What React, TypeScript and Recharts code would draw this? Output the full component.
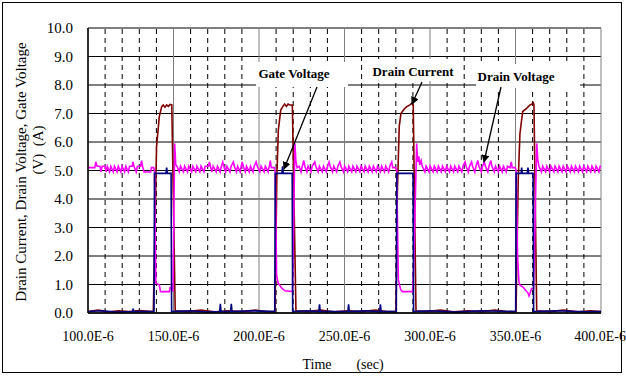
import React from 'react';
import { LineChart, Line, XAxis, YAxis, CartesianGrid, ReferenceLine } from 'recharts';

// time in microseconds, values in V / A
const timeTicks = [100, 150, 200, 250, 300, 350, 400];
const minorTimes = [110, 120, 130, 140, 160, 170, 180, 190, 210, 220, 230, 240, 260, 270, 280, 290, 310, 320, 330, 340, 360, 370, 380, 390];
const valueTicks = [0, 1, 2, 3, 4, 5, 6, 7, 8, 9, 10];

const gateVoltage: [number, number][] = [
  [100, 0.05], [108, 0.08], [116, 0.03], [126, 0.05], [126.4, 0.15], [126.8, 0.05], [138.6, 0.05],
  [138.9, 4.9], [145.6, 4.9], [146, 5.1], [146.4, 4.9], [148.6, 4.9], [148.9, 0.05],
  [160, 0.08], [170, 0.03], [177, 0.05], [177.4, 0.32], [177.8, 0.05], [183.4, 0.05], [183.8, 0.32], [184.2, 0.05],
  [195, 0.08], [209.2, 0.05],
  [209.5, 4.9], [213.4, 4.9], [213.8, 5.15], [214.2, 4.9], [219.4, 4.9], [219.7, 0.05],
  [228, 0.08], [235, 0.05], [235.4, 0.3], [235.8, 0.05], [252, 0.05], [252.4, 0.3], [252.8, 0.05],
  [262, 0.08], [270.6, 0.05], [271, 0.3], [271.4, 0.05], [280.3, 0.05],
  [280.6, 4.9], [290.1, 4.9], [290.4, 0.05],
  [300, 0.08], [315, 0.03], [330, 0.08], [350.1, 0.05],
  [350.4, 4.9], [353.3, 4.9], [353.6, 5.1], [354, 4.9], [356.9, 4.9], [357.3, 5.1], [357.7, 4.9], [360.3, 4.9], [360.6, 0.05],
  [375, 0.08], [390, 0.04], [400, 0.05],
];

const drainCurrent: [number, number][] = [
  [100, 0.05], [106, 0.1], [112, 0.04], [118, 0.08], [124, 0.05], [130, 0.09], [138.2, 0.05],
  [140.1, 5.84], [141.7, 6.9], [143.1, 7.24], [144, 7.3], [145, 7.22], [146, 7.3], [147, 7.25], [148, 7.32], [149, 7.3], [151, 0.08],
  [158, 0.05], [166, 0.1], [174, 0.04], [182, 0.08], [190, 0.05], [198, 0.1], [204, 0.05], [209.4, 0.05],
  [210.4, 4.67], [211.3, 6.42], [212.7, 7.12], [214, 7.25], [215, 7.33], [216, 7.25], [217, 7.33], [218, 7.3], [219.5, 7.3], [221.6, 0.08],
  [228, 0.05], [236, 0.1], [244, 0.04], [252, 0.08], [260, 0.05], [268, 0.1], [275, 0.05], [280.1, 0.05],
  [280.9, 4.2], [282, 6.54], [283, 7.0], [284.8, 7.15], [286.4, 7.24], [288.3, 7.3], [289.7, 7.38], [290.2, 7.3], [291.8, 0.08],
  [298, 0.05], [306, 0.1], [314, 0.04], [322, 0.08], [330, 0.05], [338, 0.1], [345, 0.05], [350.3, 0.05],
  [351.6, 4.67], [352.6, 6.3], [354.2, 7.07], [356.5, 7.18], [358.5, 7.3], [359.5, 7.33], [360.4, 7.38], [360.8, 7.3], [362.4, 0.08],
  [370, 0.05], [378, 0.1], [386, 0.04], [394, 0.08], [400, 0.05],
];

const drainVoltage: [number, number][] = [
  [100, 5.1], [104, 5.1], [104.6, 5.3], [105.3, 5.15], [107, 5.15], [107.6, 4.95], [108.3, 5.15], [110, 5.15], [110.6, 4.95], [111.3, 5.15],
  [112.6, 4.95], [113.3, 5.15], [114.8, 4.95], [115.5, 5.15], [117, 4.95], [117.7, 5.15], [119.2, 4.95], [119.9, 5.15], [121.4, 4.95], [122.1, 5.15],
  [123.6, 4.95], [124.3, 5.15], [125.8, 5.15], [126.3, 5.3], [126.9, 5.15], [128.2, 4.95], [128.9, 5.15], [130.8, 5.15], [131.3, 5.35], [131.9, 5.15],
  [132.8, 4.95], [136.6, 4.95], [137.1, 5.1], [138.4, 5.1],
  [138.9, 5.0], [139.7, 1.05], [141.7, 0.98], [142.4, 0.75], [147.6, 0.75], [148.1, 0.9], [149.4, 0.9], [149.7, 0.75], [150.7, 5.95], [151.3, 5.2],
  [152, 5.15], [153.4, 4.95], [154.1, 5.15], [155.8, 4.95], [156.5, 5.15], [158.2, 4.95], [158.9, 5.15], [160.6, 4.95], [161.3, 5.15], [163, 4.95],
  [163.7, 5.15], [165.4, 4.95], [166.1, 5.15], [167.8, 4.95], [168.5, 5.15], [170.5, 5.15], [171, 5.3], [171.6, 5.15], [172.5, 4.95], [173.2, 5.15],
  [175, 4.95], [175.7, 5.15], [177.3, 4.95], [178, 5.15], [178.8, 5.3], [179.4, 5.15], [180.5, 4.95], [181.2, 5.15], [183, 4.95], [183.7, 5.15],
  [185, 5.3], [185.6, 5.15], [186.8, 4.95], [187.5, 5.15], [189, 4.95], [189.6, 5.15], [190.2, 5.3], [190.8, 5.15], [192, 4.95], [192.7, 5.15],
  [194.3, 4.95], [195, 5.15], [196.5, 4.95], [197.2, 5.15], [198.3, 5.3], [199, 5.15], [200.5, 4.95], [201.2, 5.15], [203, 4.95], [203.7, 5.15],
  [205.3, 4.95], [206, 5.15], [206.6, 5.35], [207.2, 5.1], [208.9, 5.1],
  [209.5, 4.95], [210.3, 1.33], [211.2, 1.05], [213.3, 0.87], [215.2, 0.78], [219.6, 0.75], [221, 5.95], [221.6, 5.3], [222.3, 5.1],
  [223.5, 5.15], [224.6, 4.95], [225.3, 5.15], [226.2, 5.35], [226.8, 5.15], [228, 4.95], [228.7, 5.15], [230.4, 4.95], [231.1, 5.15], [232.6, 5.3],
  [233.2, 5.15], [234.6, 4.95], [235.3, 5.15], [237, 4.95], [237.7, 5.15], [239.4, 4.95], [240.1, 5.15], [241, 5.3], [241.6, 5.15], [243, 4.95],
  [243.7, 5.15], [245.4, 4.95], [246.1, 5.15], [247.3, 5.3], [247.9, 5.15], [249.4, 4.95], [250.1, 5.15], [251.8, 4.95], [252.5, 5.15], [254.2, 4.95],
  [254.9, 5.15], [256.6, 4.95], [257.3, 5.15], [259, 4.95], [259.7, 5.15], [261.4, 4.95], [262.1, 5.15], [263.8, 4.95], [264.5, 5.15], [266.2, 4.95],
  [266.9, 5.15], [268.6, 4.95], [269.3, 5.15], [271, 4.95], [271.7, 5.15], [273.4, 4.95], [274.1, 5.15], [275.8, 4.95], [276.5, 5.15], [277.6, 5.3],
  [278.2, 5.1], [279.9, 5.1],
  [280.5, 5.0], [281.5, 1.16], [282.9, 0.81], [284, 0.75], [289.8, 0.75], [290.4, 1.5], [292.2, 5.95], [292.8, 5.3], [293.4, 5.5], [294, 5.2],
  [294.8, 5.35], [295.5, 5.15],
  [297, 4.95], [297.7, 5.15], [299.4, 4.95], [300.1, 5.15], [301.8, 4.95], [302.5, 5.15], [304.2, 4.95], [304.9, 5.15], [306.6, 4.95], [307.3, 5.15],
  [309, 4.95], [309.7, 5.15], [311.4, 4.95], [312.1, 5.15], [313.8, 4.95], [314.5, 5.15], [316.2, 4.95], [316.9, 5.15], [318.6, 4.95], [319.3, 5.15],
  [320.5, 5.3], [321.1, 5.15], [322.4, 4.95], [323.1, 5.15], [324.3, 5.3], [324.9, 5.15], [326.2, 4.95], [326.9, 5.15], [328, 5.35], [328.6, 5.15],
  [330, 4.95], [330.7, 5.15], [331.8, 5.3], [332.4, 5.15], [333.8, 4.95], [334.5, 5.15], [335.6, 5.35], [336.2, 5.15], [337.6, 4.95], [338.3, 5.15],
  [340, 4.95], [340.7, 5.15], [342.2, 4.95], [342.9, 5.15], [344.6, 4.95], [345.3, 5.15], [346.8, 5.1], [347.5, 5.3], [348.1, 5.1], [349.8, 5.1],
  [350.4, 5.0], [351.2, 2.0], [352, 1.1], [352.6, 0.98], [354.5, 0.9], [357.4, 0.69], [357.9, 0.6], [358.5, 0.69], [359.4, 0.86], [360.6, 0.86],
  [362.4, 5.95], [363, 5.4], [363.7, 5.15],
  [365.2, 4.95], [365.9, 5.15], [367.6, 4.95], [368.3, 5.15], [370, 4.95], [370.7, 5.15], [372.4, 4.95], [373.1, 5.15], [374.8, 4.95], [375.5, 5.15],
  [377.2, 4.95], [377.9, 5.15], [379.6, 4.95], [380.3, 5.15], [382, 4.95], [382.7, 5.15], [384.4, 4.95], [385.1, 5.15], [386.8, 4.95], [387.5, 5.15],
  [389.2, 4.95], [389.9, 5.15], [391.6, 4.95], [392.3, 5.15], [394, 4.95], [394.7, 5.15], [396.4, 4.95], [397.1, 5.15], [398.8, 4.95], [399.5, 5.15],
  [400, 5.15],
];

const toRows = (pts: [number, number][]) => pts.map(([t, v]) => ({ t, v }));

const serif = '"Liberation Serif", "Times New Roman", serif';

const App: React.FC = () => {
  return (
    <div style={{ position: 'relative', width: 626, height: 381, background: '#fff' }}>
      <style>{'body{margin:0}'}</style>
      <LineChart width={626} height={381} margin={{ top: 28, right: 25, bottom: 0, left: 0 }}>
        <CartesianGrid horizontal={true} vertical={false} stroke="#000" strokeWidth={1} />
        <CartesianGrid horizontal={false} vertical={true} stroke="#808080" strokeWidth={1} />
        {minorTimes.map(t => (
          <ReferenceLine key={t} x={t} stroke="#000" strokeDasharray="5 4" strokeWidth={1} />
        ))}
        <XAxis
          type="number"
          dataKey="t"
          domain={[100, 400]}
          ticks={timeTicks}
          allowDataOverflow
          height={68}
          tickLine={false}
          tickMargin={12}
          axisLine={{ stroke: '#000', strokeWidth: 1.5 }}
          tickFormatter={(v: number) => `${v.toFixed(1)}E-6`}
          tick={{ fill: '#000', fontSize: 14, fontFamily: serif }}
        />
        <YAxis
          type="number"
          domain={[0, 10]}
          ticks={valueTicks}
          width={88}
          tickLine={false}
          tickMargin={9}
          axisLine={{ stroke: '#000', strokeWidth: 1.5 }}
          tickFormatter={(v: number) => v.toFixed(1)}
          tick={{ fill: '#000', fontSize: 15, fontFamily: serif }}
        />
        <Line data={toRows(drainCurrent)} dataKey="v" type="linear" stroke="#800000" strokeWidth={1.6} dot={false} isAnimationActive={false} />
        <Line data={toRows(drainVoltage)} dataKey="v" type="linear" stroke="#FF00FF" strokeWidth={1.6} dot={false} isAnimationActive={false} />
        <Line data={toRows(gateVoltage)} dataKey="v" type="linear" stroke="#000080" strokeWidth={1.6} dot={false} isAnimationActive={false} />
      </LineChart>
      <svg width={626} height={381} style={{ position: 'absolute', left: 0, top: 0, pointerEvents: 'none' }}>
        <defs>
          <marker id="arrowHead" markerWidth="8" markerHeight="8" refX="7" refY="4" orient="auto" markerUnits="userSpaceOnUse">
            <path d="M0,0 L8,4 L0,8 Z" fill="#000" />
          </marker>
        </defs>
        <rect x={2.5} y={2.5} width={619} height={370} fill="none" stroke="#000" strokeWidth={1} />
        <g fontFamily={serif} fill="#000">
          <text transform="translate(26,172) rotate(-90)" textAnchor="middle" fontSize={15}>
            Drain Current, Drain Voltage, Gate Voltage
          </text>
          <text transform="translate(43,150) rotate(-90)" textAnchor="middle" fontSize={15} style={{ whiteSpace: 'pre' }}>
            {'(V)  (A)'}
          </text>
          <text x={317} y={369} textAnchor="middle" fontSize={14}>Time</text>
          <text x={370} y={369} textAnchor="middle" fontSize={14}>(sec)</text>
        </g>
        <g fontFamily={serif} fontWeight="bold" fontSize={13} fill="#000">
          <rect x={256} y={62} width={92} height={25} fill="#fff" />
          <text x={294} y={78} textAnchor="middle">Gate Voltage</text>
          <rect x={366} y={59} width={94} height={22} fill="#fff" />
          <text x={413} y={76} textAnchor="middle">Drain Current</text>
          <rect x={476} y={64} width={104} height={24} fill="#fff" />
          <text x={516} y={81} textAnchor="middle">Drain Voltage</text>
        </g>
        <g stroke="#000" strokeWidth={1.3}>
          <line x1={317} y1={87} x2={284} y2={169} markerEnd="url(#arrowHead)" />
          <line x1={422} y1={82} x2={412} y2={104} markerEnd="url(#arrowHead)" />
          <line x1={501} y1={87} x2={484} y2={162} markerEnd="url(#arrowHead)" />
        </g>
      </svg>
    </div>
  );
};

export default App;
